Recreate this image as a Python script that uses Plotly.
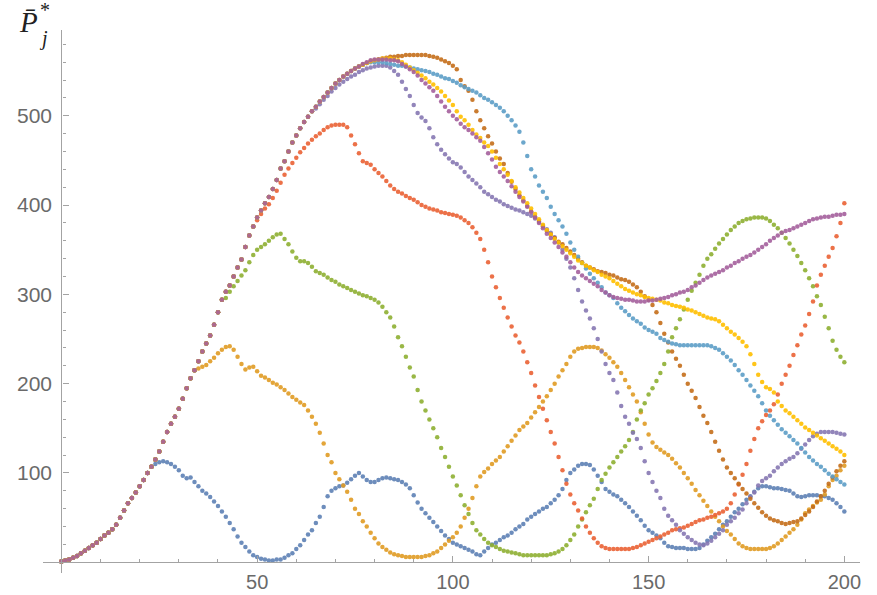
import plotly.graph_objects as go

# ---- data, x = 0,1,2,...
# common rising part shared by all series, x = 0..80
rise = [1, 2, 3, 5, 7, 10, 13, 16, 19, 22,
        26, 30, 33, 37, 42, 50, 58, 66, 72, 78,
        85, 92, 100, 107, 115, 124, 135, 146, 155, 163,
        172, 183, 195, 206, 215, 225, 236, 245, 254, 266,
        280, 294, 303, 310, 320, 330, 339, 353, 366, 376,
        386, 394, 402, 409, 418, 428, 441, 449, 460, 470,
        478, 486, 493, 499, 505, 510, 516, 521, 526, 531,
        536, 540, 544, 547, 550, 553, 555, 557, 559, 561,
        562]

# series 1 (blue), from x = 24
s1_start = 24
s1_tail = [110, 112, 113, 112, 110, 107, 103, 97, 94, 95,
           90, 85, 80, 77, 73, 68, 63, 57, 51, 44,
           37, 29, 22, 17, 12, 8, 6, 4, 3, 2,
           2, 3, 3, 5, 8, 10, 15, 19, 25, 31,
           36, 44, 51, 62, 74, 80, 83, 85, 86, 89,
           93, 97, 100, 96, 92, 90, 90, 92, 94, 95,
           94, 93, 92, 90, 87, 83, 75, 67, 60, 55,
           50, 45, 40, 35, 30, 26, 22, 20, 18, 16,
           14, 12, 9, 8, 12, 16, 20, 22, 25, 28,
           30, 33, 37, 40, 43, 48, 51, 54, 57, 60,
           62, 66, 70, 75, 82, 92, 100, 104, 108, 110,
           110, 109, 104, 97, 90, 82, 79, 76, 74, 70,
           66, 62, 57, 52, 47, 41, 36, 33, 30, 27,
           22, 18, 17, 16, 16, 16, 15, 15, 15, 16,
           20, 24, 28, 32, 37, 42, 46, 51, 56, 60,
           65, 70, 74, 79, 83, 85, 85, 84, 83, 83,
           82, 81, 80, 77, 74, 73, 74, 75, 75, 75,
           74, 74, 72, 70, 66, 62, 57]

# series 2 (orange), from x = 35
s2_start = 35
s2_tail = [217, 219, 221, 225, 229, 234, 238, 241, 242, 238,
           230, 222, 216, 218, 219, 214, 209, 207, 204, 201,
           199, 196, 193, 189, 185, 182, 179, 176, 170, 163,
           155, 145, 133, 120, 112, 100, 93, 86, 79, 70,
           60, 54, 46, 40, 33, 27, 21, 17, 14, 11,
           9, 8, 7, 6, 6, 6, 6, 6, 7, 8,
           10, 12, 16, 20, 24, 28, 33, 40, 50, 60,
           72, 85, 96, 101, 105, 110, 114, 118, 124, 130,
           136, 142, 148, 152, 156, 162, 168, 174, 180, 186,
           193, 200, 208, 215, 222, 230, 236, 239, 240, 241,
           241, 241, 240, 237, 233, 229, 224, 219, 212, 204,
           196, 188, 180, 168, 155, 143, 134, 129, 126, 123,
           120, 116, 111, 106, 100, 94, 88, 81, 75, 69,
           63, 57, 51, 46, 40, 35, 31, 26, 21, 18,
           16, 15, 15, 15, 15, 15, 16, 18, 21, 25,
           29, 33, 37, 42, 48, 55, 59, 63, 67, 70,
           76, 85, 92, 97, 103, 108]

# series 3 (green), from x = 42
s3_start = 42
s3_tail = [296, 303, 309, 315, 321, 327, 336, 344, 350, 353,
           356, 360, 364, 367, 368, 362, 356, 348, 341, 337,
           337, 335, 331, 326, 324, 322, 319, 316, 314, 311,
           309, 307, 305, 303, 301, 299, 298, 296, 294, 291,
           286, 280, 274, 264, 252, 242, 230, 218, 208, 193,
           180, 170, 160, 150, 140, 128, 118, 107, 96, 86,
           75, 64, 54, 44, 36, 31, 26, 22, 19, 17,
           15, 13, 12, 11, 10, 9, 8, 8, 8, 8,
           8, 8, 8, 9, 10, 12, 15, 19, 25, 31,
           40, 48, 56, 64, 71, 82, 92, 99, 106, 112,
           118, 124, 130, 137, 146, 160, 170, 178, 188, 195,
           203, 212, 222, 236, 252, 262, 272, 283, 294, 304,
           313, 322, 332, 340, 345, 351, 357, 362, 367, 372,
           376, 380, 382, 384, 385, 386, 386, 386, 385, 382,
           378, 374, 369, 363, 357, 350, 343, 335, 327, 318,
           309, 298, 288, 275, 262, 248, 238, 230, 224]

# series 4 (red), from x = 50
s4_start = 50
s4_tail = [383, 390, 396, 401, 408, 416, 425, 434, 441, 447,
           453, 459, 464, 469, 473, 477, 480, 484, 487, 489,
           490, 490, 490, 487, 478, 468, 458, 449, 447, 445,
           440, 436, 432, 427, 422, 418, 415, 413, 410, 408,
           406, 403, 400, 398, 396, 395, 394, 392, 391, 390,
           389, 388, 386, 383, 380, 375, 369, 362, 350, 336,
           320, 308, 296, 285, 274, 264, 254, 246, 236, 224,
           212, 198, 185, 172, 159, 146, 133, 118, 103, 88,
           76, 66, 58, 49, 40, 33, 27, 22, 18, 16,
           15, 15, 15, 15, 15, 15, 16, 17, 19, 21,
           23, 25, 27, 29, 31, 33, 36, 37, 38, 39,
           41, 43, 45, 47, 48, 50, 51, 53, 55, 57,
           60, 66, 76, 87, 98, 110, 125, 138, 150, 158,
           165, 170, 177, 188, 200, 210, 220, 232, 243, 255,
           265, 278, 292, 310, 322, 332, 342, 352, 365, 380,
           402]

# series 5 (purple), from x = 65
s5_start = 65
s5_tail = [508, 513, 518, 522, 527, 531, 535, 538, 541, 544,
           546, 549, 551, 553, 554, 555, 556, 556, 556, 554,
           550, 546, 538, 530, 522, 512, 503, 498, 494, 486,
           476, 468, 462, 457, 452, 448, 446, 442, 437, 432,
           428, 424, 420, 415, 412, 409, 406, 404, 401, 399,
           397, 395, 394, 392, 390, 388, 385, 381, 377, 373,
           369, 364, 358, 350, 340, 330, 318, 305, 292, 282,
           273, 262, 250, 236, 222, 212, 204, 190, 175, 163,
           155, 145, 138, 128, 113, 100, 90, 80, 72, 60,
           52, 47, 42, 36, 32, 28, 25, 22, 20, 19,
           21, 24, 28, 32, 36, 42, 46, 50, 55, 59,
           66, 73, 78, 86, 91, 94, 97, 102, 106, 110,
           113, 116, 118, 122, 127, 132, 137, 141, 144, 146,
           146, 146, 146, 145, 144, 143]

# series 6 (brown), from x = 81
s6_start = 81
s6_tail = [563, 564, 565, 566, 566, 567, 567, 568, 568, 568,
           568, 568, 568, 567, 566, 565, 563, 561, 559, 556,
           552, 540, 533, 528, 518, 505, 495, 486, 477, 469,
           460, 452, 446, 436, 426, 418, 411, 405, 399, 393,
           387, 382, 376, 371, 367, 363, 359, 356, 352, 348,
           344, 340, 336, 332, 330, 328, 326, 325, 324, 322,
           321, 319, 317, 316, 314, 311, 308, 303, 298, 294,
           288, 280, 268, 256, 246, 236, 228, 220, 210, 200,
           192, 184, 174, 164, 156, 146, 135, 125, 115, 106,
           100, 94, 88, 82, 77, 71, 66, 61, 56, 52,
           49, 47, 46, 44, 43, 44, 45, 46, 49, 53,
           57, 62, 68, 74, 80, 88, 95, 102, 108, 113]

# series 7 (light blue), from x = 79
s7_start = 79
s7_tail = [560, 560, 560, 560, 559, 558, 557, 556, 556, 555,
           554, 553, 552, 551, 550, 549, 547, 546, 544, 542,
           541, 539, 537, 534, 532, 530, 528, 526, 523, 520,
           518, 515, 512, 509, 505, 500, 495, 489, 482, 470,
           455, 440, 432, 422, 415, 408, 398, 390, 383, 376,
           368, 358, 350, 342, 335, 329, 323, 318, 313, 308,
           302, 299, 296, 290, 285, 281, 277, 273, 270, 267,
           263, 260, 258, 256, 251, 249, 247, 245, 244, 243,
           243, 243, 243, 243, 243, 243, 243, 242, 240, 238,
           234, 230, 226, 221, 215, 210, 204, 198, 192, 186,
           178, 170, 164, 159, 154, 149, 145, 141, 137, 133,
           128, 123, 118, 114, 110, 107, 103, 99, 96, 93,
           90, 87]

# series 8 (yellow), from x = 81
s8_start = 81
s8_tail = [563, 564, 564, 564, 563, 562, 560, 557, 554, 551,
           548, 545, 542, 538, 535, 531, 527, 522, 517, 512,
           505, 499, 495, 490, 484, 479, 475, 470, 466, 460,
           453, 446, 440, 434, 427, 420, 414, 408, 402, 396,
           390, 384, 378, 372, 367, 362, 358, 354, 350, 346,
           342, 338, 335, 332, 330, 327, 325, 322, 320, 318,
           315, 312, 309, 306, 304, 302, 300, 299, 297, 296,
           295, 294, 293, 291, 290, 288, 287, 286, 285, 283,
           282, 280, 278, 276, 274, 273, 272, 270, 266, 262,
           258, 255, 251, 247, 242, 233, 222, 210, 202, 196,
           194, 190, 180, 175, 170, 167, 163, 159, 155, 151,
           148, 145, 142, 139, 136, 133, 130, 127, 124, 120]

# series 9 (magenta), from x = 77
s9_start = 77
s9_tail = [558, 560, 562, 563, 563, 563, 563, 562, 562, 561,
           558, 555, 552, 549, 545, 540, 536, 532, 528, 522,
           516, 510, 505, 500, 496, 491, 487, 484, 480, 476,
           472, 465, 458, 451, 443, 437, 432, 427, 421, 415,
           409, 404, 398, 392, 386, 380, 374, 368, 363, 358,
           353, 347, 342, 336, 330, 325, 321, 318, 315, 312,
           309, 305, 302, 299, 297, 296, 295, 294, 294, 293,
           292, 292, 292, 293, 293, 294, 295, 296, 297, 299,
           300, 302, 303, 305, 308, 310, 313, 316, 319, 321,
           323, 325, 327, 330, 332, 335, 337, 340, 342, 344,
           347, 350, 353, 356, 360, 363, 366, 369, 371, 372,
           374, 376, 378, 380, 382, 384, 385, 386, 387, 387,
           388, 389, 389, 390]

series = [
    (s1_start, s1_tail, "#5E81B5"),
    (s2_start, s2_tail, "#E19C24"),
    (s3_start, s3_tail, "#8FB032"),
    (s4_start, s4_tail, "#EB6235"),
    (s5_start, s5_tail, "#8778B3"),
    (s6_start, s6_tail, "#C56E1A"),
    (s7_start, s7_tail, "#5D9EC7"),
    (s8_start, s8_tail, "#FFBF00"),
    (s9_start, s9_tail, "#A5609D"),
]

x_ticks = [50, 100, 150, 200]
y_ticks = [100, 200, 300, 400, 500]

fig = go.Figure()
for start, tail, color in series:
    y = rise[:start] + tail
    x = list(range(len(y)))
    fig.add_trace(go.Scatter(
        x=x, y=y, mode="markers",
        marker=dict(color=color, size=4.5, line=dict(width=0)),
        opacity=0.9, showlegend=False, hoverinfo="skip"))

xr = [-4.7, 204]
yr = [-12, 596]
axis_col = "#a3a3a3"
lab_col = "#6a6a6a"
font = "Liberation Sans, Arial, sans-serif"

fig.update_layout(
    width=877, height=595,
    margin=dict(l=43, r=17, t=30, b=22, autoexpand=False),
    paper_bgcolor="white", plot_bgcolor="white",
    xaxis=dict(
        range=xr, anchor="free", position=(0 - yr[0]) / (yr[1] - yr[0]),
        automargin=False,
        showgrid=False, zeroline=False, showline=True,
        linecolor=axis_col, linewidth=1.3,
        tickmode="array", tickvals=x_ticks,
        ticks="inside", ticklen=6, tickwidth=1, tickcolor=axis_col,
        minor=dict(tickmode="linear", tick0=0, dtick=10, ticks="inside",
                   ticklen=3.5, tickwidth=1, tickcolor=axis_col),
        tickfont=dict(family=font, size=20, color=lab_col),
        ticklabelstandoff=2,
    ),
    yaxis=dict(
        range=yr, anchor="free", position=(0 - xr[0]) / (xr[1] - xr[0]),
        automargin=False,
        showgrid=False, zeroline=False, showline=True,
        linecolor=axis_col, linewidth=1.3,
        tickmode="array", tickvals=y_ticks,
        ticks="inside", ticklen=6, tickwidth=1, tickcolor=axis_col,
        minor=dict(tickmode="linear", tick0=0, dtick=20, ticks="inside",
                   ticklen=3.5, tickwidth=1, tickcolor=axis_col),
        tickfont=dict(family=font, size=21, color=lab_col),
        ticklabelstandoff=5,
    ),
    annotations=[
        dict(text="<i>P̄</i>", xref="paper", yref="paper",
             x=-0.018, y=1.015, showarrow=False, xanchor="center", yanchor="middle",
             font=dict(family="Liberation Serif, serif", size=29, color="#222")),
        dict(text="*", xref="paper", yref="paper",
             x=0.003, y=1.036, showarrow=False, xanchor="center", yanchor="middle",
             font=dict(family="Liberation Serif, serif", size=20, color="#222")),
        dict(text="<i>j</i>", xref="paper", yref="paper",
             x=0.0, y=0.985, showarrow=False, xanchor="center", yanchor="middle",
             font=dict(family="Liberation Serif, serif", size=20, color="#222")),
    ],
)

fig.write_html("out.html", config={"displayModeBar": False},
               post_script="document.body.style.margin='0';document.body.style.padding='0';")
